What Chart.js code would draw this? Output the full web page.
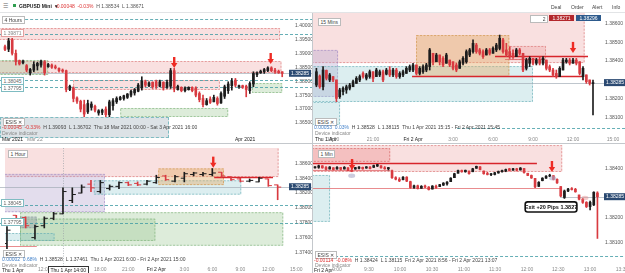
<!DOCTYPE html>
<html>
<head>
<meta charset="utf-8">
<script src="https://cdn.jsdelivr.net/npm/chart.js@4.4.1/dist/chart.umd.min.js"></script>
<style>
  body { margin: 0; width: 625px; height: 273px; overflow: hidden; background: #fff; position: relative;
         font-family: "Liberation Sans", Arial, sans-serif; }
  .pane { position: absolute; }
  .t { position: absolute; font-size: 5px; line-height: 6px; white-space: nowrap; color: #444; }
  .box { border: 0.6px solid #bbb; background: #fff; padding: 0 1.5px; }
  .sep { position: absolute; background: #c4c8cc; }
</style>
</head>
<body>

<div class="sep" style="left:0;top:12px;width:625px;height:1px;background:#e2e4e6"></div>

<div class="pane" style="left:0;top:13px"><canvas id="tl" width="313" height="130"></canvas></div>
<div class="pane" style="left:313px;top:13px"><canvas id="tr" width="312" height="130"></canvas></div>
<div class="pane" style="left:0;top:143px"><canvas id="bl" width="313" height="130"></canvas></div>
<div class="pane" style="left:313px;top:143px"><canvas id="br" width="312" height="130"></canvas></div>

<div class="sep" style="left:312px;top:13px;width:1px;height:260px"></div>
<div class="sep" style="left:0;top:143px;width:625px;height:1px"></div>

<!-- header -->
<div class="t" style="left:3px;top:3px;font-size:6px;color:#666">&#9776;</div>
<div style="position:absolute;left:13px;top:4px;width:3px;height:3px;background:#2e9e4f"></div>
<div class="t" style="left:19px;top:3px;color:#222;font-weight:bold">GBPUSD Mini &nbsp;&#9662;</div>
<div class="t" style="left:55px;top:3px;color:#d33">-0.00048 &nbsp;-0.03% <span style="color:#555">&nbsp;H 1.38534 &nbsp;L 1.38671</span></div>
<div class="t" style="left:551px;top:4px">Deal</div>
<div class="t" style="left:571px;top:4px">Order</div>
<div class="t" style="left:592px;top:4px">Alert</div>
<div class="t" style="left:612px;top:4px">Info</div>

<!-- top left overlays -->
<div class="t box" style="left:2px;top:16px">4 Hours</div>
<div class="t box" style="left:1px;top:29px;border-color:#e4a0a0;color:#888">1.39871</div>
<div class="t box" style="left:1px;top:77px;border-color:#7fbcc2;color:#666">1.38045</div>
<div class="t box" style="left:1px;top:84px;border-color:#7fbcc2;color:#666">1.37795</div>
<div style="position:absolute;left:0;top:117px;width:167px;height:19px;background:rgba(208,216,222,0.75);border:0.7px dashed #7fbcc2"></div>
<div class="t box" style="left:3px;top:118px">ESIS &#10005;</div>
<div class="t" style="left:2px;top:124px;color:#d33">-0.00045 &nbsp;-0.33% <span style="color:#444">&nbsp;H 1.39093 &nbsp;L 1.36702 &nbsp;Thu 18 Mar 2021 00:00 - Sat 3 Apr 2021 16:00</span></div>
<div class="t" style="left:2px;top:130px;color:#888">Device indicator</div>
<div class="t" style="left:2px;top:136px;color:#222">Mar 2021</div>

<!-- top right overlays -->
<div class="t box" style="left:318px;top:18px">15 Mins</div>
<div class="t box" style="left:530px;top:15px;width:13px;text-align:right">2</div>
<div class="t" style="left:549px;top:15px;width:25px;height:6px;background:#b3262b;color:#fff;text-align:center">1.38271</div>
<div class="t" style="left:576px;top:15px;width:25px;height:6px;background:#2d5a8c;color:#fff;text-align:center">1.38296</div>
<div class="t box" style="left:315px;top:118px">ESIS &#10005;</div>
<div class="t" style="left:314px;top:124px;color:#3f7fc9">0.00053 &nbsp;0.03% <span style="color:#444">&nbsp;H 1.38528 &nbsp;L 1.38115 &nbsp;Thu 1 Apr 2021 15:15 - Fri 2 Apr 2021 15:45</span></div>
<div class="t" style="left:315px;top:130px;color:#888">Device indicator</div>
<div class="t" style="left:315px;top:136px;color:#222">Thu 1 Apr</div>

<!-- bottom left overlays -->
<div class="t box" style="left:8px;top:150px">1 Hour</div>
<div class="t box" style="left:1px;top:199px;border-color:#7fbcc2;color:#666">1.38045</div>
<div class="t box" style="left:1px;top:218px;border-color:#7fbcc2;color:#666">1.37795</div>
<div class="t box" style="left:3px;top:250px">ESIS &#10005;</div>
<div class="t" style="left:2px;top:256px;color:#3f7fc9">0.00002 &nbsp;0.68% <span style="color:#444">&nbsp;H 1.38528 &nbsp;L 1.37461 &nbsp;Thu 1 Apr 2021 6:00 - Fri 2 Apr 2021 15:00</span></div>
<div class="t" style="left:2px;top:262px;color:#888">Device indicator</div>
<div class="t" style="left:2px;top:267px;color:#222">Thu 1 Apr</div>
<div class="t box" style="left:48px;top:266px;border-color:#333;color:#222">Thu 1 Apr 14:00</div>

<!-- bottom right overlays -->
<div class="t box" style="left:318px;top:150px">1 Min</div>
<div class="t box" style="left:315px;top:251px">ESIS &#10005;</div>
<div class="t" style="left:314px;top:257px;color:#d33">-0.00114 &nbsp;-0.08% <span style="color:#444">&nbsp;H 1.38424 &nbsp;L 1.38115 &nbsp;Fri 2 Apr 2021 8:56 - Fri 2 Apr 2021 13:07</span></div>
<div class="t" style="left:315px;top:262px;color:#888">Device indicator</div>
<div class="t" style="left:314px;top:267px;color:#222">Fri 2 Apr</div>

<script>
// ---- 4 hour candles (top left)
const tlOpen  = [1.3924,1.3915,1.3948,1.3900,1.3874,1.3866,1.3856,1.3830,1.3840,1.3855,1.3858,1.3870,1.3852,1.3858,1.3852,1.3846,1.3840,1.3838,1.3770,1.3776,
                 1.3740,1.3728,1.3716,1.3690,1.3706,1.3710,1.3686,1.3688,1.3700,1.3680,1.3712,1.3726,1.3734,1.3738,1.3742,1.3750,1.3758,1.3764,1.3776,1.3798,
                 1.3784,1.3796,1.3798,1.3782,1.3796,1.3778,1.3782,1.3838,1.3770,1.3778,1.3766,1.3770,1.3778,1.3776,1.3756,1.3738,1.3716,1.3736,1.3726,1.3738,
                 1.3722,1.3746,1.3766,1.3784,1.3804,1.3780,1.3784,1.3782,1.3766,1.3790,1.3824,1.3830,1.3834,1.3838,1.3848,1.3840,1.3836,1.3834];
const tlHigh  = [1.3930,1.3954,1.3954,1.3912,1.3876,1.3876,1.3860,1.3846,1.3870,1.3868,1.3876,1.3874,1.3864,1.3862,1.3858,1.3848,1.3844,1.3840,1.3786,1.3780,
                 1.3744,1.3732,1.3732,1.3732,1.3726,1.3714,1.3698,1.3700,1.3708,1.3732,1.3738,1.3744,1.3746,1.3750,1.3756,1.3768,1.3774,1.3792,1.3816,1.3804,
                 1.3798,1.3798,1.3804,1.3804,1.3798,1.3804,1.3846,1.3846,1.3786,1.3780,1.3780,1.3780,1.3780,1.3780,1.3762,1.3750,1.3738,1.3744,1.3750,1.3744,
                 1.3762,1.3786,1.3798,1.3810,1.3810,1.3786,1.3786,1.3786,1.3798,1.3834,1.3834,1.3840,1.3846,1.3852,1.3852,1.3846,1.3840,1.3834];
const tlLow   = [1.3910,1.3906,1.3894,1.3858,1.3858,1.3862,1.3834,1.3822,1.3834,1.3840,1.3850,1.3822,1.3850,1.3846,1.3844,1.3834,1.3832,1.3762,1.3766,1.3726,
                 1.3720,1.3690,1.3672,1.3684,1.3696,1.3690,1.3678,1.3680,1.3672,1.3672,1.3696,1.3720,1.3732,1.3732,1.3738,1.3744,1.3750,1.3762,1.3768,1.3780,
                 1.3780,1.3774,1.3774,1.3780,1.3768,1.3774,1.3774,1.3762,1.3768,1.3762,1.3762,1.3768,1.3762,1.3744,1.3726,1.3708,1.3714,1.3720,1.3726,1.3714,
                 1.3720,1.3738,1.3756,1.3768,1.3780,1.3774,1.3774,1.3744,1.3756,1.3780,1.3816,1.3828,1.3828,1.3834,1.3834,1.3828,1.3828,1.3816];
const tlClose = [1.3914,1.3945,1.3900,1.3870,1.3862,1.3872,1.3840,1.3842,1.3860,1.3864,1.3872,1.3830,1.3860,1.3850,1.3848,1.3838,1.3836,1.3770,1.3782,1.3738,
                 1.3728,1.3700,1.3682,1.3720,1.3718,1.3696,1.3694,1.3696,1.3680,1.3726,1.3730,1.3738,1.3742,1.3748,1.3754,1.3764,1.3770,1.3786,1.3800,1.3786,
                 1.3794,1.3780,1.3782,1.3798,1.3776,1.3796,1.3838,1.3774,1.3782,1.3766,1.3776,1.3778,1.3766,1.3750,1.3734,1.3716,1.3730,1.3724,1.3742,1.3720,
                 1.3756,1.3780,1.3790,1.3800,1.3786,1.3784,1.3778,1.3770,1.3792,1.3828,1.3830,1.3836,1.3842,1.3848,1.3838,1.3834,1.3830,1.3828];
const tlTicks = [1.400, 1.395, 1.390, 1.385, 1.380, 1.375, 1.370, 1.365];
const tlTickPos = [8.3, 66.7];
const tlTickText = ['Mar 22', 'Apr 2021'];

// ---- 15 minute candles (top right)
const trOpen  = [1.38272,1.38320,1.38263,1.38350,1.38299,1.38317,1.38299,1.38210,1.38237,1.38246,1.38255,1.38263,1.38281,1.38299,1.38334,1.38308,1.38317,1.38343,1.38317,1.38326,
                 1.38343,1.38330,1.38352,1.38326,1.38352,1.38317,1.38326,1.38334,1.38352,1.38352,1.38379,1.38334,1.38343,1.38352,1.38370,1.38441,1.38396,1.38432,1.38414,1.38388,
                 1.38405,1.38396,1.38379,1.38361,1.38388,1.38396,1.38432,1.38450,1.38485,1.38459,1.38450,1.38432,1.38459,1.38441,1.38459,1.38467,1.38512,1.38459,1.38450,1.38441,
                 1.38423,1.38459,1.38441,1.38361,1.38388,1.38414,1.38388,1.38405,1.38388,1.38405,1.38370,1.38352,1.38334,1.38317,1.38352,1.38396,1.38405,1.38388,1.38405,1.38396,
                 1.38317,1.38326,1.38299,1.38280];
const trHigh  = [1.38361,1.38326,1.38370,1.38352,1.38334,1.38317,1.38299,1.38255,1.38263,1.38272,1.38281,1.38299,1.38317,1.38326,1.38343,1.38334,1.38352,1.38343,1.38361,1.38352,
                 1.38352,1.38361,1.38370,1.38361,1.38361,1.38343,1.38352,1.38370,1.38379,1.38388,1.38379,1.38370,1.38379,1.38388,1.38467,1.38441,1.38441,1.38432,1.38423,1.38441,
                 1.38405,1.38396,1.38388,1.38405,1.38423,1.38459,1.38467,1.38512,1.38494,1.38467,1.38459,1.38467,1.38467,1.38476,1.38494,1.38538,1.38521,1.38494,1.38476,1.38459,
                 1.38467,1.38467,1.38441,1.38414,1.38423,1.38414,1.38414,1.38423,1.38423,1.38405,1.38379,1.38361,1.38352,1.38370,1.38414,1.38414,1.38414,1.38414,1.38414,1.38396,
                 1.38370,1.38326,1.38299,1.38299];
const trLow   = [1.38263,1.38255,1.38246,1.38299,1.38290,1.38290,1.38184,1.38201,1.38219,1.38228,1.38246,1.38263,1.38281,1.38290,1.38308,1.38299,1.38308,1.38290,1.38317,1.38317,
                 1.38290,1.38326,1.38317,1.38317,1.38308,1.38308,1.38317,1.38334,1.38343,1.38343,1.38326,1.38326,1.38334,1.38343,1.38352,1.38379,1.38396,1.38379,1.38370,1.38388,
                 1.38370,1.38352,1.38343,1.38361,1.38379,1.38388,1.38423,1.38441,1.38441,1.38432,1.38414,1.38432,1.38432,1.38441,1.38450,1.38459,1.38441,1.38423,1.38414,1.38414,
                 1.38423,1.38432,1.38343,1.38352,1.38370,1.38379,1.38379,1.38379,1.38379,1.38352,1.38343,1.38317,1.38308,1.38317,1.38352,1.38388,1.38379,1.38388,1.38379,1.38326,
                 1.38299,1.38281,1.38272,1.38113];
const trClose = [1.38343,1.38263,1.38352,1.38308,1.38326,1.38299,1.38201,1.38246,1.38255,1.38263,1.38272,1.38290,1.38308,1.38317,1.38317,1.38326,1.38343,1.38308,1.38352,1.38343,
                 1.38299,1.38352,1.38326,1.38352,1.38317,1.38334,1.38343,1.38361,1.38370,1.38379,1.38334,1.38361,1.38370,1.38379,1.38459,1.38396,1.38432,1.38396,1.38379,1.38432,
                 1.38379,1.38361,1.38352,1.38396,1.38414,1.38450,1.38459,1.38494,1.38450,1.38441,1.38423,1.38459,1.38441,1.38467,1.38485,1.38521,1.38450,1.38432,1.38423,1.38423,
                 1.38459,1.38441,1.38352,1.38405,1.38414,1.38388,1.38405,1.38388,1.38414,1.38361,1.38352,1.38326,1.38317,1.38361,1.38405,1.38405,1.38388,1.38405,1.38388,1.38334,
                 1.38361,1.38290,1.38281,1.38285];
const trTicks = [1.386, 1.385, 1.384, 1.382, 1.381];
const trTickPos = [5, 17, 29, 41, 53, 65, 77, 89];
const trTickText = ['18:00', '21:00', 'Fri 2 Apr', '3:00', '6:00', '9:00', '12:00', '15:00'];

// ---- 1 hour bars (bottom left)
const blOpen  = [1.3752,1.3790,1.3787,1.3760,1.3776,1.3786,1.3792,1.3810,1.3820,1.3832,1.3822,1.3826,1.3829,1.3834,1.3833,
                 1.3832,1.3834,1.3843,1.3836,1.3840,1.3845,1.3845,1.3845,1.3848,1.3842,1.3839,1.3836,1.3835,1.3839,1.3831];
const blHigh  = [1.3775,1.3790,1.3788,1.3777,1.3788,1.3794,1.3827,1.3827,1.3831,1.3837,1.3837,1.3831,1.3835,1.3835,1.3835,
                 1.3837,1.3844,1.3844,1.3844,1.3848,1.3848,1.3848,1.3853,1.3848,1.3842,1.3840,1.3839,1.3841,1.3839,1.3831];
const blLow   = [1.3745,1.3783,1.3773,1.3758,1.3773,1.3784,1.3792,1.3807,1.3820,1.3822,1.3820,1.3824,1.3826,1.3830,1.3830,
                 1.3831,1.3833,1.3837,1.3835,1.3835,1.3843,1.3843,1.3843,1.3841,1.3837,1.3835,1.3835,1.3835,1.3829,1.3811];
const blClose = [1.3770,1.3784,1.3776,1.3775,1.3786,1.3792,1.3822,1.3818,1.3828,1.3827,1.3834,1.3829,1.3834,1.3831,1.3831,
                 1.3836,1.3841,1.3838,1.3842,1.3846,1.3847,1.3846,1.3847,1.3843,1.3838,1.3836,1.3837,1.3840,1.3830,1.3828];
const blTicks = [1.386, 1.384, 1.382, 1.380, 1.378, 1.376, 1.374];
const blTickPos = [4, 10, 13, 16, 19, 22, 25, 28, 31];
const blTickText = ['12:00', '18:00', '21:00', 'Fri 2 Apr', '3:00', '6:00', '9:00', '12:00', '15:00'];

// ---- 1 minute candles (bottom right)
const brOpen  = [1.38402,1.38404,1.38410,1.38403,1.38397,1.38402,1.38397,1.38403,1.38397,1.38402,1.38391,1.38397,1.38400,1.38404,1.38401,1.38405,1.38404,1.38409,1.38410,1.38402,
                 1.38398,1.38390,1.38362,1.38355,1.38354,1.38364,1.38346,1.38322,1.38329,1.38319,1.38327,1.38324,1.38316,1.38327,1.38326,1.38332,1.38337,1.38346,1.38362,1.38380,
                 1.38391,1.38386,1.38389,1.38386,1.38400,1.38406,1.38389,1.38378,1.38374,1.38375,1.38381,1.38386,1.38389,1.38398,1.38392,1.38398,1.38393,1.38399,1.38380,1.38371,
                 1.38359,1.38327,1.38350,1.38360,1.38368,1.38370,1.38355,1.38326,1.38282,1.38308,1.38316,1.38315,1.38292,1.38275,1.38262,1.38245,1.38252,1.38300];
const brHigh  = [1.38407,1.38413,1.38411,1.38407,1.38407,1.38403,1.38407,1.38404,1.38407,1.38403,1.38400,1.38404,1.38407,1.38405,1.38407,1.38407,1.38413,1.38416,1.38411,1.38407,
                 1.38404,1.38393,1.38366,1.38362,1.38366,1.38366,1.38348,1.38332,1.38332,1.38330,1.38332,1.38326,1.38330,1.38332,1.38335,1.38342,1.38346,1.38362,1.38380,1.38393,
                 1.38393,1.38393,1.38389,1.38400,1.38409,1.38407,1.38389,1.38384,1.38380,1.38384,1.38389,1.38393,1.38397,1.38400,1.38400,1.38400,1.38403,1.38400,1.38380,1.38373,
                 1.38359,1.38346,1.38362,1.38370,1.38376,1.38370,1.38357,1.38326,1.38312,1.38319,1.38322,1.38319,1.38292,1.38278,1.38265,1.38267,1.38305,1.38305];
const brLow   = [1.38400,1.38400,1.38400,1.38393,1.38397,1.38393,1.38396,1.38393,1.38397,1.38389,1.38386,1.38396,1.38397,1.38396,1.38400,1.38397,1.38403,1.38407,1.38400,1.38396,
                 1.38393,1.38359,1.38353,1.38346,1.38353,1.38346,1.38319,1.38319,1.38316,1.38319,1.38322,1.38312,1.38316,1.38319,1.38326,1.38330,1.38332,1.38346,1.38362,1.38380,
                 1.38384,1.38384,1.38376,1.38386,1.38400,1.38393,1.38376,1.38373,1.38370,1.38373,1.38380,1.38384,1.38386,1.38389,1.38392,1.38389,1.38393,1.38380,1.38370,1.38359,
                 1.38322,1.38326,1.38349,1.38359,1.38366,1.38353,1.38339,1.38285,1.38278,1.38305,1.38312,1.38303,1.38272,1.38258,1.38241,1.38231,1.38249,1.38116];
const brClose = [1.38405,1.38410,1.38402,1.38396,1.38405,1.38395,1.38404,1.38396,1.38404,1.38391,1.38388,1.38403,1.38405,1.38398,1.38406,1.38399,1.38411,1.38415,1.38402,1.38398,
                 1.38403,1.38362,1.38356,1.38349,1.38364,1.38348,1.38322,1.38329,1.38318,1.38327,1.38324,1.38314,1.38328,1.38322,1.38334,1.38340,1.38344,1.38360,1.38378,1.38391,
                 1.38386,1.38392,1.38378,1.38398,1.38408,1.38395,1.38378,1.38375,1.38378,1.38382,1.38387,1.38391,1.38395,1.38391,1.38398,1.38392,1.38401,1.38383,1.38371,1.38361,
                 1.38325,1.38343,1.38360,1.38368,1.38372,1.38355,1.38341,1.38288,1.38308,1.38316,1.38314,1.38305,1.38275,1.38262,1.38245,1.38262,1.38303,1.38285];
const brTicks = [1.384, 1.382, 1.381];
const brTickPos = [6.0, 14.7, 23.2, 31.9, 40.6, 49.1, 57.8, 66.3, 75.0, 83.7];
const brTickText = ['9:00', '9:30', '10:00', '10:30', '11:00', '11:30', '12:00', '12:30', '13:00', '13:30'];

const lastPrice = 1.38285;

const UP = '#1c1c1c', DOWN = '#d83a40';
const FONT = '"Liberation Sans", Arial, sans-serif';

const ZONE = {
  pink:   { fill: 'rgba(232,140,140,0.27)', edge: 'rgba(214,100,100,0.7)' },
  pinkHi: { fill: 'rgba(232,120,120,0.30)', edge: 'rgba(214,98,98,0.8)' },
  green:  { fill: 'rgba(150,196,140,0.32)', edge: 'rgba(112,168,108,0.7)' },
  teal:   { fill: 'rgba(140,198,204,0.30)', edge: 'rgba(84,164,172,0.7)' },
  orange: { fill: 'rgba(226,170,100,0.42)', edge: 'rgba(206,146,72,0.8)' },
  purple: { fill: 'rgba(178,160,206,0.36)', edge: 'rgba(150,128,190,0.7)' },
  grey:   { fill: 'rgba(150,165,170,0.45)', edge: 'rgba(120,140,145,0.7)' }
};
const LINE = {
  dash:  { color: '#3f9aa3', width: 0.8, dash: [3, 2] },
  red:   { color: '#d7262c', width: 1.4, dash: [] },
  thin:  { color: '#e05a5f', width: 0.7, dash: [] },
  price: { color: '#a3adb8', width: 0.7, dash: [] }
};

// zones: [xFrom, xTo, low, high, kind]   lines: [price, xFrom, xTo, kind]
const tlZones = [
  [-2, 76.4, 1.39480, 1.39910, 'pink'], [-2, 76.8, 1.38295, 1.38726, 'pink'],
  [-2, 12, 1.38223, 1.38762, 'green'], [18.9, 59.7, 1.37685, 1.38044, 'pink'],
  [32, 62, 1.36716, 1.37039, 'green'], [68.6, 77, 1.37577, 1.37936, 'green']
];
const tlLines = [
  [1.40233, 4.2, Infinity, 'dash'], [1.39695, -Infinity, Infinity, 'dash'],
  [1.38045, -Infinity, Infinity, 'dash'], [1.37795, -Infinity, Infinity, 'dash'],
  [lastPrice, -Infinity, Infinity, 'price']
];
const trZones = [
  [-2, 80.5, 1.38389, 1.3870, 'pink'], [-2, 6.5, 1.38209, 1.38459, 'purple'],
  [-2, 65, 1.38182, 1.38373, 'teal'], [-2, 7.1, 1.38060, 1.38182, 'teal'],
  [29.9, 57.9, 1.38315, 1.38538, 'orange'], [57.9, 68.9, 1.38405, 1.38480, 'pink']
];
const trLines = [
  [1.38318, 28.7, 80, 'red'], [1.38427, 53.6, 81.5, 'red'], [1.38412, 56.6, 68.6, 'thin'],
  [1.38045, 42.2, Infinity, 'dash'], [lastPrice, -Infinity, Infinity, 'price']
];
const blZones = [
  [-1, 29.1, 1.38415, 1.3890, 'pink'], [-1, 10.5, 1.37942, 1.38458, 'purple'],
  [9.3, 25.1, 1.38178, 1.38372, 'teal'], [16.2, 23.25, 1.38307, 1.38532, 'orange'],
  [1.4, 29.6, 1.37490, 1.37942, 'green'], [1.4, 15.9, 1.37555, 1.37856, 'green'],
  [-1, 5.1, 1.37555, 1.37662, 'teal'], [1.4, 3.2, 1.37727, 1.37883, 'grey']
];
const blLines = [
  [1.38045, -Infinity, Infinity, 'dash'], [1.37795, -Infinity, Infinity, 'dash'],
  [lastPrice, -Infinity, Infinity, 'price'], [1.38415, 22.2, 28.5, 'red'], [1.37490, -1, 3.2, 'thin']
];
const brZones = [
  [-1, 67.4, 1.38385, 1.38494, 'pink'], [-1, 20.5, 1.38426, 1.38482, 'pinkHi'],
  [-1, 4.1, 1.38183, 1.38373, 'teal']
];
const brLines = [
  [1.38421, -1, 60.5, 'red'], [1.38393, -1, 20.5, 'thin'], [1.38319, -1, 66.8, 'thin'],
  [1.38045, 4.1, Infinity, 'dash'], [lastPrice, 66.8, Infinity, 'price']
];

// day / month labels dark, intraday times and minor dates grey
const isMajor = txt => /^(Thu|Fri)|\d{4}/.test(txt);

function overlay(p) {
  return {
    id: 'overlay',
    beforeDatasetsDraw(chart) {
      const { ctx, chartArea: a, scales: { x, y } } = chart;
      ctx.save();
      ctx.beginPath();
      ctx.rect(a.left, a.top, a.right - a.left, a.bottom - a.top);
      ctx.clip();
      p.zones.forEach(([x0, x1, lo, hi, kind]) => {
        const s = ZONE[kind];
        const l = x.getPixelForValue(x0), r = x.getPixelForValue(x1);
        const t = y.getPixelForValue(hi), b = y.getPixelForValue(lo);
        ctx.fillStyle = s.fill;
        ctx.fillRect(l, t, r - l, b - t);
        ctx.strokeStyle = s.edge;
        ctx.lineWidth = 0.8;
        ctx.setLineDash([2, 1.5]);
        ctx.strokeRect(l + 0.5, t + 0.5, r - l - 1, b - t - 1);
      });
      ctx.restore();
      ctx.save();
      p.lines.forEach(([v, x0, x1, kind]) => {
        const s = LINE[kind];
        const py = Math.round(y.getPixelForValue(v)) + 0.5;
        ctx.strokeStyle = s.color;
        ctx.lineWidth = s.width;
        ctx.setLineDash(s.dash);
        ctx.beginPath();
        ctx.moveTo(Math.max(0, x.getPixelForValue(x0)), py);
        ctx.lineTo(Math.min(chart.width, x.getPixelForValue(x1)), py);
        ctx.stroke();
      });
      if (p.cross !== undefined) {
        const px = Math.round(x.getPixelForValue(p.cross)) + 0.5;
        ctx.strokeStyle = '#9aa0a6';
        ctx.lineWidth = 0.7;
        ctx.setLineDash([1, 1.5]);
        ctx.beginPath();
        ctx.moveTo(px, a.top);
        ctx.lineTo(px, chart.height);
        ctx.stroke();
      }
      ctx.restore();
    },
    afterDatasetsDraw(chart) {
      const { ctx, scales: { x, y } } = chart;
      ctx.save();
      (p.marks || []).forEach(([xv, yv, col]) => {
        ctx.fillStyle = col;
        ctx.beginPath();
        ctx.ellipse(x.getPixelForValue(xv), y.getPixelForValue(yv), 3.5, 2.2, 0, 0, Math.PI * 2);
        ctx.fill();
      });
      (p.arrows || []).forEach(([xv, yv]) => {
        const px = x.getPixelForValue(xv), py = y.getPixelForValue(yv);
        ctx.fillStyle = '#ee2b24';
        ctx.fillRect(px - 1.2, py - 11, 2.4, 7);
        ctx.beginPath();
        ctx.moveTo(px - 3.2, py - 5);
        ctx.lineTo(px + 3.2, py - 5);
        ctx.lineTo(px, py);
        ctx.closePath();
        ctx.fill();
      });
      if (p.callout) {
        const [x0, x1, hi, lo, text] = p.callout;
        const l = x.getPixelForValue(x0), r = x.getPixelForValue(x1);
        const t = y.getPixelForValue(hi), b = y.getPixelForValue(lo);
        ctx.fillStyle = '#fff';
        ctx.strokeStyle = '#111';
        ctx.lineWidth = 1.6;
        ctx.beginPath();
        ctx.roundRect(l, t, r - l, b - t, 2.5);
        ctx.fill();
        ctx.stroke();
        ctx.fillStyle = '#111';
        ctx.font = 'bold 5.5px ' + FONT;
        ctx.textAlign = 'center';
        ctx.textBaseline = 'middle';
        ctx.fillText(text, (l + r) / 2, (t + b) / 2 + 0.5);
      }
      ctx.restore();
    },
    afterDraw(chart) {
      const { ctx, chartArea: a, scales: { x, y } } = chart;
      ctx.save();
      ctx.font = '5px ' + FONT;
      ctx.textAlign = 'center';
      ctx.textBaseline = 'middle';
      p.tickPos.forEach((v, i) => {
        const txt = p.tickText[i];
        ctx.fillStyle = isMajor(txt) ? '#222' : '#8a8a8a';
        ctx.fillText(txt, x.getPixelForValue(v), a.bottom + p.gap);
      });
      const py = y.getPixelForValue(lastPrice);
      const txt = lastPrice.toFixed(5);
      const w = ctx.measureText(txt).width + 4;
      const bx = y.left + p.boxPad;
      ctx.fillStyle = '#2b4a72';
      ctx.fillRect(bx, py - 3.5, w, 7);
      ctx.fillStyle = '#fff';
      ctx.textAlign = 'left';
      ctx.fillText(txt, bx + 2, py + 0.3);
      ctx.restore();
    }
  };
}

function candleSets(open, high, low, close, body) {
  const col = close.map((c, i) => c >= open[i] ? UP : DOWN);
  return [
    { data: open.map((_, i) => ({ x: i, y: [low[i], high[i]] })), backgroundColor: col,
      barThickness: 1, grouped: false, order: 2 },
    { data: open.map((_, i) => ({ x: i, y: [open[i], close[i]] })), backgroundColor: col,
      barThickness: body, grouped: false, minBarLength: 1, order: 1 }
  ];
}

function ohlcSets(open, high, low, close) {
  const col = close.map((c, i) => c >= open[i] ? UP : DOWN);
  const tick = { type: 'line', showLine: false, pointStyle: 'line', pointRadius: 1.7,
                 pointBorderWidth: 1, pointBorderColor: col, pointBackgroundColor: col };
  return [
    { data: open.map((_, i) => ({ x: i, y: [low[i], high[i]] })), backgroundColor: col,
      barThickness: 1, grouped: false },
    Object.assign({ data: open.map((o, i) => ({ x: i - 0.2, y: o })) }, tick),
    Object.assign({ data: close.map((c, i) => ({ x: i + 0.2, y: c })) }, tick)
  ];
}

function makeChart(id, datasets, c) {
  return new Chart(document.getElementById(id), {
    type: 'bar',
    data: { datasets },
    options: {
      responsive: false,
      animation: false,
      layout: { padding: 0 },
      plugins: { legend: { display: false }, tooltip: { enabled: false } },
      scales: {
        x: {
          type: 'linear', min: c.xMin, max: c.xMax, offset: false,
          grid: { display: false, drawTicks: false }, border: { display: false },
          ticks: { display: false },
          afterFit: s => { s.height = c.xh; s.paddingLeft = 0; s.paddingRight = 0; }
        },
        y: {
          type: 'linear', position: 'right', min: c.yMin, max: c.yMax,
          grid: { display: false, drawTicks: false }, border: { display: false },
          ticks: { color: '#555', padding: c.pad, font: { size: 5, family: FONT }, callback: v => v.toFixed(5) },
          afterBuildTicks: s => { s.ticks = c.yTicks.map(v => ({ value: v })); },
          afterFit: s => { s.width = c.yw; s.paddingTop = 0; s.paddingBottom = 0; }
        }
      }
    },
    plugins: [overlay(c)]
  });
}

makeChart('tl', candleSets(tlOpen, tlHigh, tlLow, tlClose, 2), {
  xMin: -1.389, xMax: 78.33, yMin: 1.361055, yMax: 1.404487, yTicks: tlTicks,
  xh: 9, yw: 26, pad: 8, boxPad: 2, gap: 6,
  zones: tlZones, lines: tlLines, arrows: [[47, 1.38474], [73.8, 1.38618]],
  tickPos: tlTickPos, tickText: tlTickText
});

makeChart('tr', candleSets(trOpen, trHigh, trLow, trClose, 2), {
  xMin: -1.02, xMax: 85.1, yMin: 1.380117, yMax: 1.386553, yTicks: trTicks,
  xh: 9, yw: 25, pad: 5, boxPad: 4, gap: 6,
  zones: trZones, lines: trLines, arrows: [[77, 1.38443]],
  tickPos: trTickPos, tickText: trTickText
});

makeChart('bl', ohlcSets(blOpen, blHigh, blLow, blClose), {
  xMin: -0.21, xMax: 30, yMin: 1.372581, yMax: 1.388065, yTicks: blTicks,
  xh: 10, yw: 26, pad: 8, boxPad: 2, gap: 7, cross: 6,
  zones: blZones, lines: blLines, arrows: [[22.1, 1.38542]],
  tickPos: blTickPos, tickText: blTickText
});

makeChart('br', candleSets(brOpen, brHigh, brLow, brClose, 2), {
  xMin: -0.55, xMax: 77.7, yMin: 1.380166, yMax: 1.385024, yTicks: brTicks,
  xh: 10, yw: 25, pad: 5, boxPad: 4, gap: 7,
  zones: brZones, lines: brLines, arrows: [[10.1, 1.38393], [64.6, 1.38385]],
  marks: [[10, 1.38370, 'rgba(170,170,200,0.6)'], [64.8, 1.38360, 'rgba(170,170,200,0.6)'], [73.6, 1.38280, 'rgba(230,140,140,0.45)']],
  callout: [57.3, 71.4, 1.38264, 1.38223, 'Exit +20 Pips 1.3827'],
  tickPos: brTickPos, tickText: brTickText
});
</script>
</body>
</html>
